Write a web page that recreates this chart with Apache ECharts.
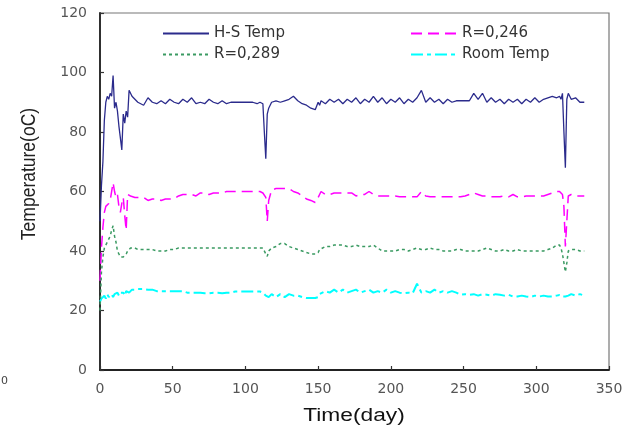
<!DOCTYPE html>
<html>
<head>
<meta charset="utf-8">
<script src="https://cdn.jsdelivr.net/npm/echarts@6/dist/echarts.min.js"></script>
<style>
html,body{margin:0;padding:0;background:#fff;}
#chart{width:626px;height:428px;}
</style>
</head>
<body>
<div id="chart"></div>
<script>
// Time axis (days)
const days = [
  0,1,2,3,4,5,6,7,8,9,10,11,12,13,14,15,16,17,18,19,20,21,22,
  24,26,28,30,
  33,36,39,42,45,48,51,54,57,60,63,66,69,72,75,78,81,84,87,90,93,96,99,102,105,108,
  110,112,113,114,115,116,118,
  121,124,127,130,133,136,139,142,145,148,
  150,151,152,
  155,158,161,164,167,170,173,176,179,182,185,188,191,194,197,200,203,206,209,212,215,218,221,224,227,230,233,236,239,242,245,248,251,254,257,260,263,266,269,272,275,278,281,284,287,290,293,296,299,302,305,308,311,314,
  316,317,318,319,320,321,322,324,327,330,333
];

// H-S Temp
const hsTemp = [
  50,62,70,84,90,92,91,93,92,99,88,90,87,82,78,74,86,83,87,85,94,93,92,
  91,90,89.5,89,
  91.5,90,89.5,90.5,89.5,91,90,89.5,91,90,91.5,89.5,90,89.5,91,90,89.5,90.5,89.5,90,90,90,90,90,90,89.5,
  90,89.5,80,71,86,88,90,
  90.5,90,90.5,91,92,90.5,89.5,89,88,87.5,
  90,89,90.5,
  89.5,91,90,91,89.5,91,90,91.5,89.5,91,90,92,90,91.5,89.5,91,90,91.5,89.5,91,90,91.5,94,90,91.5,90,91,89.5,91,90,90.5,90.5,90.5,90.5,93,91,93,90,91.5,90,91,89.5,91,90,91,89.5,91,90,91.5,90,91,91.5,92,91.5,
  92,91,93,80,68,91,93,91,91.5,90,90
];

// R=0,246
const r246 = [
  30,41,48,53,55,55.5,56,57,57,63,60,58,59,55,53,56,58,52,47,59,59,58.5,58.5,
  58,58,58,58,
  57,57.5,57.5,57,57.5,57.5,57.5,58.5,59,59,59,58.5,59.5,59.5,59,59.5,59.5,59.5,60,60,60,60,60,60,60,60,
  60,59.5,59,58,50,57,60.5,
  61,61,61,61,60,59.5,58.5,57.5,57,56.3,
  58,59,60,
  59,59,59.5,59.5,59.5,59.5,59.5,58.5,59,59,60,59,58.5,58.5,58.5,58.5,58.5,58.2,58.2,58.2,58.2,58.2,60,58.5,58.2,58.2,58.2,58.2,58.2,58.2,58.2,58.2,58.5,59,59.5,59,58.5,58.5,58.2,58.2,58.2,58.5,58.2,59,58.2,58.2,58.5,58.5,58.5,58.5,58.5,59,59.5,60,
  60,59.5,59,55,41.5,50,58.5,59,58.5,58.5,58.5
];

// R=0,289
const r289 = [
  20,33,38,41,42,43,43.5,45,47,48.5,45,43,40,39,38,37.5,38,38,39,40,40.5,41,41,
  41,40.5,40.5,40.5,
  40.5,40.5,40,40,40,40.5,40.5,41,41,41,41,41,41,41,41,41,41,41,41,41,41,41,41,41,41,41,
  41,41,40.5,39,38.2,40,41,
  41.5,42.5,42.5,41.5,41,40.5,40,39.5,39,39,
  39.5,40.5,41,
  41.5,41.5,42,42,42,41.5,41.5,42,41.5,41.5,41.5,42,41,40,40,40,40,40.5,40.5,40,40.5,41,40.5,40.5,41,40.5,40.5,40,40,40,40.5,40.5,40,40,40,40,40.5,41,40.5,40,40,40.5,40,40,40.5,40,40,40,40,40,40,40.5,41,42,
  42,41,39,36,33,36,40,40.5,40.5,40,40
];

// Room Temp
const roomTemp = [
  23,24,24.5,25,24,25.5,24.5,25,25.5,24.5,25.5,25,26,25,26,25.5,26,25,26.5,26.5,26,26.5,27,
  27,27.2,27.2,27.2,
  27,27,26.5,26.5,26.5,26.5,26.5,26.5,26.5,26,26,26,26,25.8,25.8,26,26,25.8,26,26,26.4,26.4,26.4,26.4,26.4,26.4,
  26.4,26,25.5,25,25,24.5,25.5,
  24.5,25.5,24.5,25.5,25,25,24.5,24.2,24.2,24.2,
  24.5,25.5,26,
  26.5,26,27,26,27,26,26.5,27,26,26.5,27,26,26.5,26,27,26,26.5,26,25.8,26,25.8,29,26,26.5,26,27,26,26.5,26,26.5,26,25.3,25.5,25.3,25.5,25,25.5,25.3,25,25.5,25.3,25,25.3,24.7,24.7,25,24.7,24.5,25,24.7,25,24.7,24.7,25,
  25.2,24.7,24.7,24.7,24.7,25,25,25.5,25,25.5,25
];

const seriesNames = ['H-S Temp', 'R=0,246', 'R=0,289', 'Room Temp'];
const xTicks = [0, 50, 100, 150, 200, 250, 300, 350];
const yTicks = [0, 20, 40, 60, 80, 100, 120];

const pairs = vals => days.map((d, i) => [d, vals[i]]);

const chart = echarts.init(document.getElementById('chart'), null, {renderer: 'canvas'});
const tickFont = {fontFamily: 'DejaVu Sans', fontSize: 14, color: '#555'};
const legendText = {fontFamily: 'DejaVu Sans', fontSize: 15, color: '#333'};
const legendBase = {orient: 'vertical', top: 26, padding: 0, itemWidth: 46, itemHeight: 14, itemGap: 6,
  textStyle: legendText, itemStyle: {color: 'rgba(0,0,0,0)', borderColor: 'rgba(0,0,0,0)', borderWidth: 0}};

chart.setOption({
  animation: false,
  backgroundColor: '#fff',
  grid: {left: 100, right: 17, top: 13, bottom: 58, show: true, borderColor: '#777', borderWidth: 1.2, containLabel: false},
  legend: [
    Object.assign({data: [seriesNames[0], seriesNames[2]], left: 162}, legendBase),
    Object.assign({data: [seriesNames[1], seriesNames[3]], left: 410}, legendBase)
  ],
  xAxis: {
    type: 'value', min: xTicks[0], max: xTicks[xTicks.length - 1], interval: 50,
    axisLine: {onZero: false, lineStyle: {color: '#222', width: 1.8}},
    axisTick: {inside: true, length: 4, lineStyle: {color: '#333', width: 1.2}},
    axisLabel: Object.assign({margin: 12}, tickFont),
    splitLine: {show: false}
  },
  yAxis: {
    type: 'value', min: yTicks[0], max: yTicks[yTicks.length - 1], interval: 20,
    axisLine: {show: true, onZero: false, lineStyle: {color: '#222', width: 1.8}},
    axisTick: {show: true, inside: true, length: 4, lineStyle: {color: '#333', width: 1.2}},
    axisLabel: Object.assign({margin: 13}, tickFont),
    splitLine: {show: false}
  },
  graphic: [
    {type: 'text', left: 1, top: 376, style: {text: '0', fontFamily: 'DejaVu Sans', fontSize: 11, fill: '#444'}},
    {type: 'text', x: 29, y: 174, rotation: Math.PI / 2, scaleY: 1.2,
     style: {text: 'Temperature(oC)', fontFamily: 'Liberation Sans', fontSize: 17.5, fill: '#222', align: 'center', verticalAlign: 'middle'}},
    {type: 'text', x: 354, y: 416, scaleX: 1.3,
     style: {text: 'Time(day)', fontFamily: 'Liberation Sans', fontSize: 17.5, fill: '#111', align: 'center', verticalAlign: 'middle'}}
  ],
  series: [
    {name: seriesNames[0], type: 'line', data: pairs(hsTemp), showSymbol: false, symbol: 'none', z: 4,
     lineStyle: {color: '#2b2b8c', width: 1.3}, itemStyle: {color: '#2b2b8c'}},
    {name: seriesNames[1], type: 'line', data: pairs(r246), showSymbol: false, symbol: 'none', z: 3,
     lineStyle: {color: '#ff00ff', width: 1.5, type: [11, 6]}, itemStyle: {color: '#ff00ff'}},
    {name: seriesNames[2], type: 'line', data: pairs(r289), showSymbol: false, symbol: 'none', z: 3,
     lineStyle: {color: '#3a9a62', width: 1.5, type: [3, 3]}, itemStyle: {color: '#3a9a62'}},
    {name: seriesNames[3], type: 'line', data: pairs(roomTemp), showSymbol: false, symbol: 'none', z: 2,
     lineStyle: {color: '#00ffff', width: 2, type: [12, 4, 4, 4]}, itemStyle: {color: '#00ffff'}}
  ]
});
</script>
</body>
</html>
